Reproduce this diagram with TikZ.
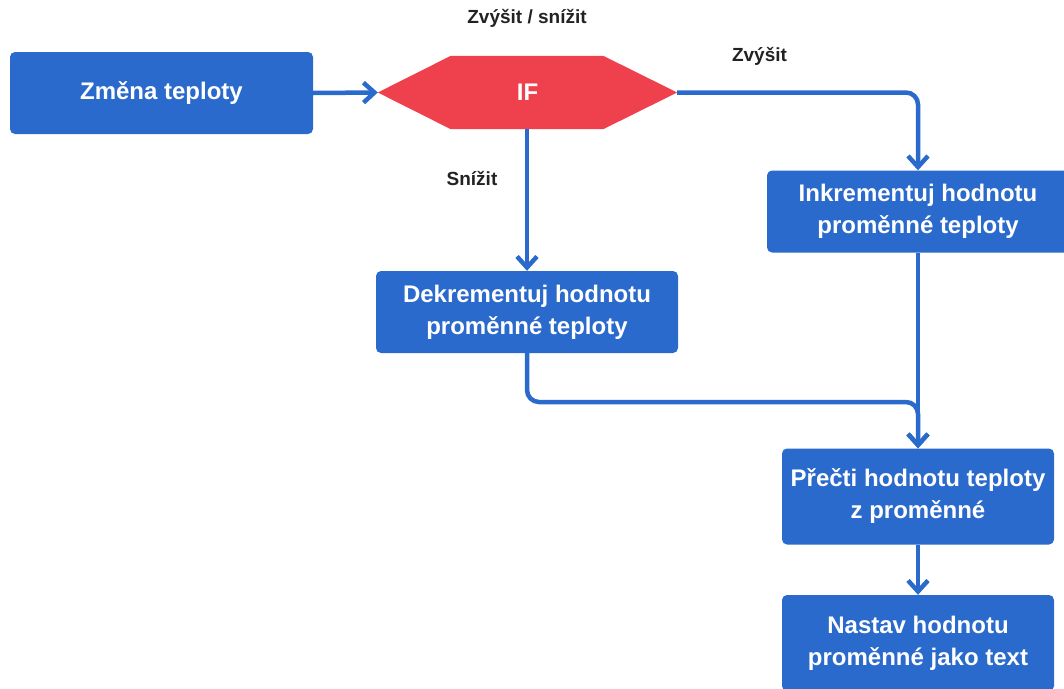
\documentclass[tikz,border=0pt]{standalone}
\usepackage{fontspec}
\setmainfont{Liberation Sans}
\usetikzlibrary{arrows.meta}
\definecolor{boxblue}{HTML}{2A6ACC}
\definecolor{ifred}{HTML}{EF404E}
\definecolor{labelgray}{HTML}{222222}
\begin{document}
\begin{tikzpicture}[x=1pt,y=-1pt,
  stepbox/.style={rectangle, rounded corners=5pt, fill=boxblue, text=white,
    font=\bfseries\fontsize{24}{32}\selectfont, align=center, inner sep=0pt},
  flow/.style={draw=boxblue, line width=4.5pt, rounded corners=12pt,
    -{Straight Barb[length=11pt,width=20pt]}},
  lbl/.style={text=labelgray, font=\bfseries\fontsize{19}{22}\selectfont, inner sep=0pt}]
\useasboundingbox (0,0) rectangle (1064,688);

% process boxes
\node[stepbox, minimum width=303pt, minimum height=82pt] (chg) at (161.5,93) {Změna teploty};
\node[stepbox, minimum width=302pt, minimum height=82pt] (dek) at (527,312) {Dekrementuj hodnotu\\proměnné teploty};
\node[stepbox, minimum width=302pt, minimum height=82pt] (ink) at (918,211.5) {Inkrementuj hodnotu\\proměnné teploty};
\node[stepbox, minimum width=272pt, minimum height=96pt] (prec) at (918,496.5) {Přečti hodnotu teploty\\z proměnné};
\node[stepbox, minimum width=272pt, minimum height=96pt] (nast) at (918,643) {Nastav hodnotu\\proměnné jako text};

% decision hexagon
\node[minimum width=299pt, minimum height=73pt, inner sep=0pt] (if) at (527.5,92.5) {};
\fill[ifred] (if.west) -- ([xshift=73pt]if.north west) -- ([xshift=-74pt]if.north east)
  -- (if.east) -- ([xshift=-74pt]if.south east) -- ([xshift=73pt]if.south west) -- cycle;
\node[text=white, font=\bfseries\fontsize{24}{28}\selectfont] at (if) {IF};

% labels
\node[lbl] (lq) at (527,18) {Zvýšit / snížit};
\node[lbl] (lup) at (759.5,56) {Zvýšit};
\node[lbl] (ldown) at (472,178) {Snížit};

% connectors
\coordinate (upturn) at (918,92.5);
\coordinate (dekturn) at (527,402);
\coordinate (joint) at (918,402);
\draw[flow] (chg.east) -- (if.west);
\draw[flow] (if.east) -- (upturn) -- (ink.north);
\draw[flow] ([xshift=-0.5pt]if.south) -- (dek.north);
\draw[flow] (ink.south) -- (prec.north);
\draw[flow] (dek.south) -- (dekturn) -- (joint) -- (prec.north);
\draw[flow] (prec.south) -- (nast.north);
\end{tikzpicture}
\end{document}
